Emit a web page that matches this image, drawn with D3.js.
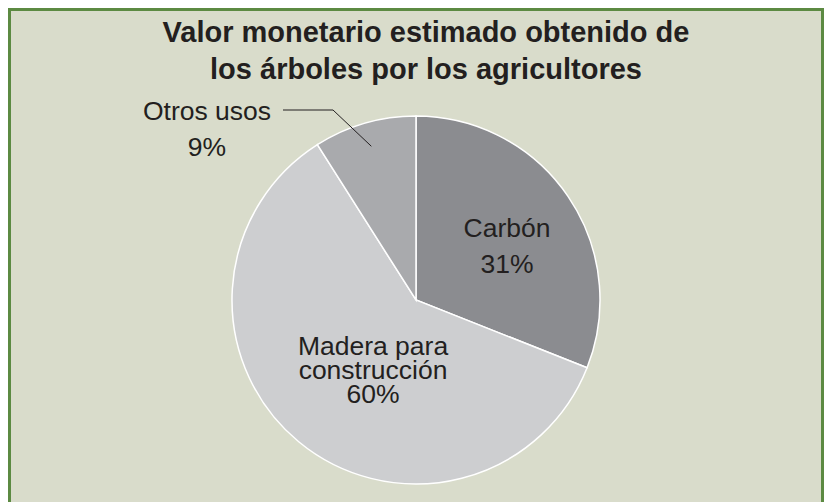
<!DOCTYPE html>
<html>
<head>
<meta charset="utf-8">
<script src="https://cdn.jsdelivr.net/npm/d3@7"></script>
<style>
  body { margin: 0; background: #fff; }
  text { font-family: "Liberation Sans", Arial, sans-serif; fill: #231f20; }
</style>
</head>
<body>
<script>
var categories = ["Carbón", "Madera para construcción", "Otros usos"];
var values = [31, 60, 9];
var labelLines = [["Carbón", "31%"], ["Madera para", "construcción", "60%"], ["Otros usos", "9%"]];
var colors = ["#8b8c90", "#cdced0", "#a9aaad"];
var titleLines = ["Valor monetario estimado obtenido de", "los árboles por los agricultores"];

var width = 824, height = 502,
    cx = 416, cy = 300, radius = 184;

var svg = d3.select("body").append("svg")
    .attr("width", width)
    .attr("height", height);

// panel
svg.append("rect")
    .attr("x", 9.5).attr("y", 9.5)
    .attr("width", 813).attr("height", 510)
    .attr("fill", "#d9dccb")
    .attr("stroke", "#5c8a42")
    .attr("stroke-width", 3);

svg.append("text")
    .attr("x", 426).attr("y", 42)
    .attr("text-anchor", "middle")
    .style("font-size", "29px").style("font-weight", "bold")
    .selectAll("tspan")
    .data(titleLines)
    .enter().append("tspan")
    .attr("x", 426)
    .attr("dy", function(d, i) { return i ? 37 : 0; })
    .text(function(d) { return d; });

var pie = d3.pie().sort(null).value(function(d) { return d; });
var arc = d3.arc().innerRadius(0).outerRadius(radius);
var arcs = pie(values);

var g = svg.append("g")
    .attr("transform", "translate(" + cx + "," + cy + ")");

g.selectAll("path")
    .data(arcs)
    .enter().append("path")
    .attr("d", arc)
    .attr("fill", function(d, i) { return colors[i]; })
    .attr("stroke", "#fff")
    .attr("stroke-width", 1.5);

// label placement, relative to pie centre
var labelPos = [
    {x: 91, y: -63, lh: 36},
    {x: -43, y: 55, lh: 24},
    {x: -209, y: -180, lh: 36}
];

g.selectAll("text.lbl")
    .data(arcs)
    .enter().append("text")
    .attr("class", "lbl")
    .attr("text-anchor", "middle")
    .style("font-size", "26.5px")
    .each(function(d, i) {
        var p = labelPos[i];
        d3.select(this).selectAll("tspan")
            .data(labelLines[i])
            .enter().append("tspan")
            .attr("x", p.x)
            .attr("y", function(t, j) { return p.y + j * p.lh; })
            .text(function(t) { return t; });
    });

// leader line for the small slice
var otros = arcs[2];
var mid = (otros.startAngle + otros.endAngle) / 2;
var inner = [Math.sin(mid) * radius * 0.87, -Math.cos(mid) * radius * 0.87];
g.append("polyline")
    .attr("points", [[-133, -190], [-83, -190], inner].map(function(p) { return p.join(","); }).join(" "))
    .attr("fill", "none")
    .attr("stroke", "#231f20")
    .attr("stroke-width", 1);
</script>
</body>
</html>
